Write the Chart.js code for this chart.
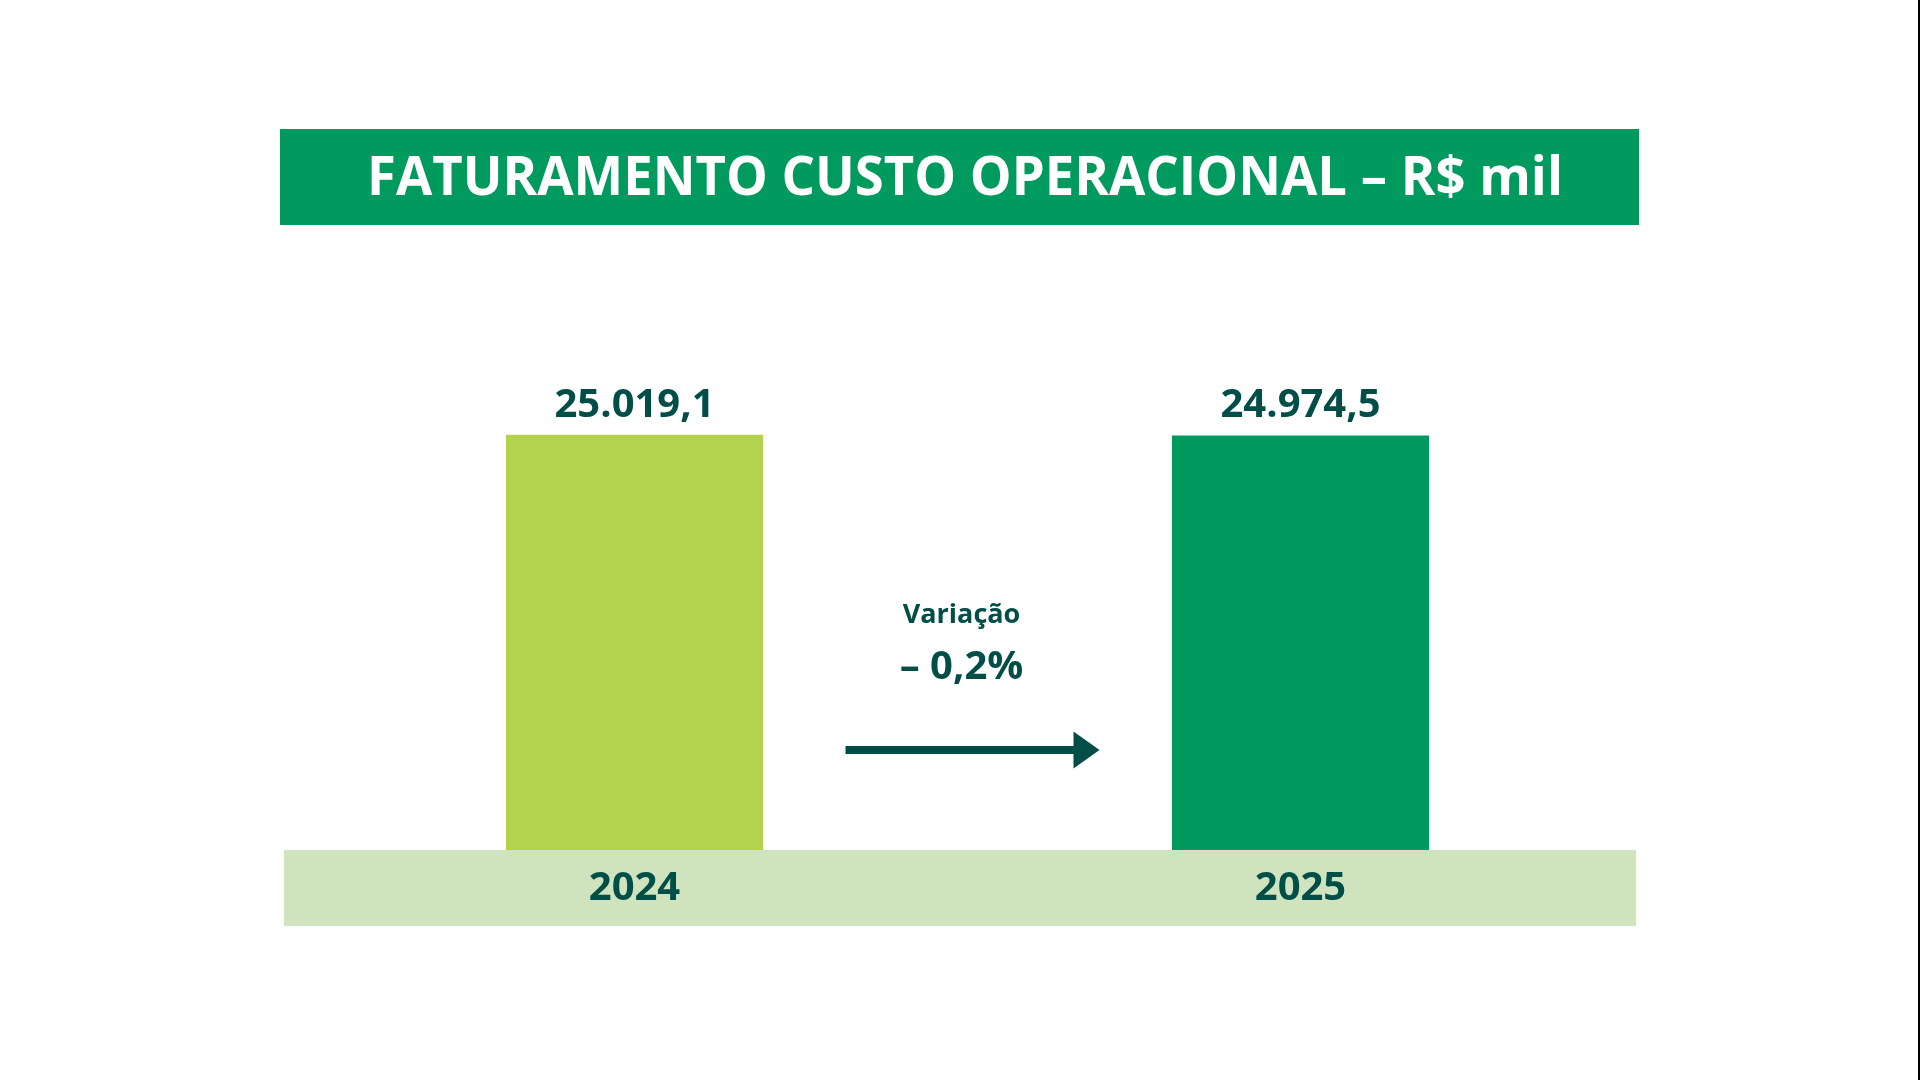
<!DOCTYPE html>
<html lang="pt-BR">
<head>
  <meta charset="UTF-8" />
  <title>Faturamento Custo Operacional</title>
  <script src="https://cdn.jsdelivr.net/npm/chart.js"></script>
  <style>
    html, body { margin: 0; padding: 0; background: #fff; }
    body { width: 1920px; height: 1080px; position: relative; overflow: hidden; font-family: 'Open Sans', sans-serif; }
    #chart { position: absolute; left: 0; top: 0; }
    .edge { position: absolute; right: 0; top: 0; width: 2px; height: 1080px; background: #000; }
  </style>
</head>
<body>
  <canvas id="chart" width="1920" height="1080"></canvas>
  <div class="edge"></div>

  <script>
    // dados
    const titleText = 'FATURAMENTO CUSTO OPERACIONAL – R$ mil';
    const years = ['2024', '2025'];
    const values = [25019.1, 24974.5];
    const barColors = ['#b2d44d', '#009a5e'];
    const variationTitle = 'Variação';
    const variationLabel = '– 0,2%';

    const darkText = '#004e47';
    const fontFamily = "'Open Sans', sans-serif";

    // 25019.1 -> "25.019,1"
    function fmt(v) {
      const parts = v.toFixed(1).split('.');
      const int = parts[0].replace(/\B(?=(\d{3})+(?!\d))/g, '.');
      return int + ',' + parts[1];
    }

    const decorPlugin = {
      id: 'decor',
      beforeDraw(chart) {
        const ctx = chart.ctx;
        const area = chart.chartArea;
        ctx.save();
        // faixa do título
        ctx.fillStyle = '#009a5e';
        ctx.fillRect(280, 129, 1359, 96);
        ctx.fillStyle = '#ffffff';
        ctx.font = 'bold 54px ' + fontFamily;
        ctx.textAlign = 'center';
        ctx.textBaseline = 'alphabetic';
        ctx.fillText(titleText, 965, 195, 1196);
        // faixa dos anos
        ctx.fillStyle = '#cee3be';
        ctx.fillRect(area.left - 17.5, area.bottom, area.right - area.left + 20, 76);
        ctx.restore();
      },
      afterDatasetsDraw(chart) {
        const ctx = chart.ctx;
        const area = chart.chartArea;
        const xScale = chart.scales.x;
        const meta = chart.getDatasetMeta(0);
        ctx.save();
        ctx.fillStyle = darkText;
        ctx.textAlign = 'center';
        ctx.textBaseline = 'alphabetic';
        ctx.font = 'bold 40px ' + fontFamily;
        meta.data.forEach((bar, i) => {
          ctx.fillText(fmt(values[i]), bar.x, bar.y - 18);
        });
        years.forEach((y, i) => {
          ctx.fillText(y, xScale.getPixelForValue(i), area.bottom + 50);
        });

        // variação no meio
        const mid = (xScale.getPixelForValue(0) + xScale.getPixelForValue(1)) / 2;
        ctx.font = 'bold 27px ' + fontFamily;
        ctx.fillText(variationTitle, mid - 6, 623);
        ctx.font = 'bold 40px ' + fontFamily;
        ctx.fillText(variationLabel, mid - 6, 679);

        // seta
        ctx.strokeStyle = darkText;
        ctx.lineWidth = 8;
        ctx.beginPath();
        ctx.moveTo(mid - 122, 750);
        ctx.lineTo(mid + 108, 750);
        ctx.stroke();
        ctx.beginPath();
        ctx.moveTo(mid + 106, 731.5);
        ctx.lineTo(mid + 132, 750);
        ctx.lineTo(mid + 106, 768.5);
        ctx.closePath();
        ctx.fill();
        ctx.restore();
      }
    };

    new Chart(document.getElementById('chart').getContext('2d'), {
      type: 'bar',
      data: {
        labels: years,
        datasets: [{
          data: values,
          backgroundColor: barColors,
          borderWidth: 0,
          barPercentage: 0.386,
          categoryPercentage: 1
        }]
      },
      options: {
        responsive: false,
        animation: false,
        devicePixelRatio: 1,
        layout: {
          padding: { left: 301.5, right: 286.5, top: 352, bottom: 230 }
        },
        plugins: {
          legend: { display: false },
          tooltip: { enabled: false }
        },
        scales: {
          x: { display: false, offset: true },
          y: { display: false, min: 0, max: 30000 }
        }
      },
      plugins: [decorPlugin]
    });
  </script>
</body>
</html>
